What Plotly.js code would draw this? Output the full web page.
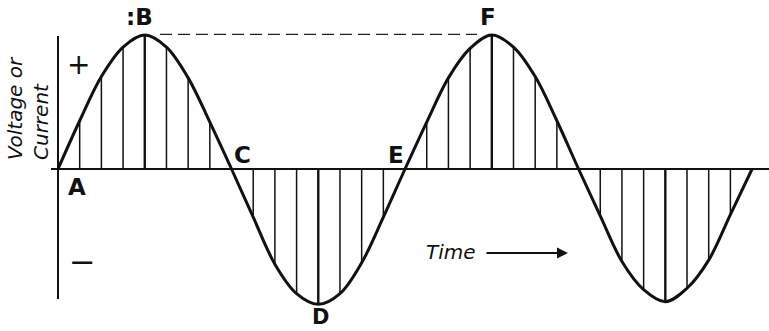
<!DOCTYPE html>
<html>
<head>
<meta charset="utf-8">
<script src="https://cdn.plot.ly/plotly-3.0.1.min.js"></script>
<style>
  html, body { margin: 0; padding: 0; background: #ffffff; }
  #chart { width: 769px; height: 331px; }
</style>
</head>
<body>
<div id="chart"></div>
<script>
// Phase of each ordinate (degrees of rotation) and its value (% of peak)
var phaseDeg = [0, 22.5, 45, 67.5, 90, 112.5, 135, 157.5, 180,
                202.5, 225, 247.5, 270, 292.5, 315, 337.5, 360,
                382.5, 405, 427.5, 450, 472.5, 495, 517.5, 540,
                562.5, 585, 607.5, 630, 652.5, 675, 697.5, 720];
var waveValue = [0, 36, 69, 91, 100, 91, 68, 35, 0,
                 -36, -71, -93, -101, -93, -70, -36, 0,
                 35, 68, 90, 100, 91, 69, 36, 0,
                 -35, -69, -90, -99, -89, -68, -34, 0];
// Point labels on the wave
var pointLabels = [":B", "A", "C", "D", "E", "F"];

// pixel -> data helpers (layout only)
function X(px) { return (px - 58) / 0.964; }
function Y(py) { return (169 - py) / 1.34; }

// hatch ordinates
var hx = [], hy = [], px = [], py = [];
for (var i = 0; i < phaseDeg.length; i++) {
  if (waveValue[i] === 0) continue;
  var peak = Math.abs(waveValue[i]) >= 99;
  var ax = peak ? px : hx, ay = peak ? py : hy;
  ax.push(phaseDeg[i], phaseDeg[i], null);
  ay.push(0, waveValue[i], null);
}

var traces = [
  { x: hx, y: hy, mode: 'lines', line: { color: '#111', width: 1.5 }, hoverinfo: 'skip', showlegend: false },
  { x: px, y: py, mode: 'lines', line: { color: '#111', width: 2.4 }, hoverinfo: 'skip', showlegend: false },
  { x: phaseDeg, y: waveValue, mode: 'lines', line: { color: '#111', width: 3, shape: 'spline', smoothing: 1 },
    hoverinfo: 'skip', showlegend: false }
];

var boldFont = { family: 'DejaVu Sans', size: 23, color: '#111', weight: 'bold' };
var italFont = { family: 'DejaVu Sans', size: 20, color: '#111', style: 'italic' };

var labelPos = [[139, 17], [77, 187], [242, 155], [320, 317], [396, 155], [488, 17]];
var annotations = pointLabels.map(function (t, i) {
  var f = (t === 'D') ? { family: 'DejaVu Sans', size: 21, color: '#111', weight: 'bold' } : boldFont;
  return { text: t, x: X(labelPos[i][0]), y: Y(labelPos[i][1]), xref: 'x', yref: 'y',
           showarrow: false, font: f, xanchor: 'center', yanchor: 'middle', borderpad: 0 };
});
annotations.push(
  { text: '+', x: X(78), y: Y(64), showarrow: false, font: { family: 'DejaVu Sans', size: 28, color: '#111' } },
  { text: '\u2212', x: X(82), y: Y(262), showarrow: false, font: { family: 'DejaVu Sans', size: 32, color: '#111' } },
  { text: 'Voltage or<br>Current', x: X(28), y: Y(108), textangle: -90, align: 'left',
    showarrow: false, font: italFont },
  { text: 'Time', x: X(451), y: Y(252), showarrow: false, font: italFont },
  { text: '', x: X(568), y: Y(253), ax: X(485), ay: Y(253), axref: 'x', ayref: 'y',
    showarrow: true, arrowhead: 2, arrowsize: 1.1, arrowwidth: 2, arrowcolor: '#111' }
);

var shapes = [
  { type: 'line', x0: 0, x1: 0, y0: Y(36), y1: Y(299), line: { color: '#111', width: 2 } },
  { type: 'line', x0: X(51), x1: X(769), y0: 0, y1: 0, line: { color: '#111', width: 2 } },
  { type: 'line', x0: X(160), x1: X(477), y0: 100.5, y1: 100.5, line: { color: '#222', width: 1.3, dash: '12px,6px' } }
];

var layout = {
  width: 769, height: 331,
  margin: { l: 0, r: 0, t: 0, b: 0 },
  paper_bgcolor: '#ffffff', plot_bgcolor: '#ffffff',
  xaxis: { range: [X(0), X(769)], visible: false, fixedrange: true },
  yaxis: { range: [Y(331), Y(0)], visible: false, fixedrange: true },
  shapes: shapes,
  annotations: annotations,
  showlegend: false
};

Plotly.newPlot('chart', traces, layout, { staticPlot: true, displayModeBar: false });
</script>
</body>
</html>
